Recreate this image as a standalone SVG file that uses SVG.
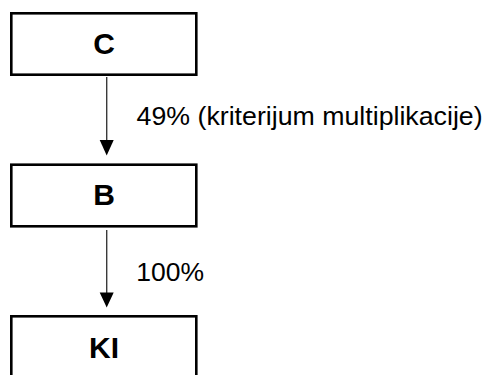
<svg xmlns="http://www.w3.org/2000/svg" width="484" height="375" viewBox="0 0 484 375">
  <style>
    .box { fill: #ffffff; stroke: #000000; stroke-width: 2.6; }
    .name { font-family: "Liberation Sans", Arial, sans-serif; font-weight: bold; font-size: 30px; text-anchor: middle; fill: #000000; }
    .edge { stroke: #3a3a3a; stroke-width: 1.4; fill: none; }
    .head { fill: #000000; stroke: none; }
    .label { font-family: "Liberation Sans", Arial, sans-serif; font-size: 25.5px; fill: #000000; }
  </style>
  <rect width="484" height="375" fill="#ffffff"/>

  <g id="node-c">
    <rect class="box" x="11.3" y="13.3" width="185" height="61.4"/>
    <text class="name" x="104" y="53.5">C</text>
  </g>

  <g id="node-b">
    <rect class="box" x="11.3" y="164.7" width="185" height="61.6"/>
    <text class="name" x="104" y="205">B</text>
  </g>

  <g id="node-ki">
    <rect class="box" x="11.3" y="316.3" width="185" height="80"/>
    <text class="name" x="104" y="358">KI</text>
  </g>

  <g id="connectors">
    <line class="edge" x1="106.7" y1="77" x2="106.7" y2="141"/>
    <polygon class="head" points="99.7,140 113.7,140 106.7,155.5"/>
    <text class="label" x="136.6" y="125" textLength="346" lengthAdjust="spacingAndGlyphs">49% (kriterijum multiplikacije)</text>

    <line class="edge" x1="106.7" y1="230" x2="106.7" y2="294"/>
    <polygon class="head" points="99.7,292.5 113.7,292.5 106.7,307.5"/>
    <text class="label" x="136.3" y="281" textLength="67.8" lengthAdjust="spacingAndGlyphs">100%</text>
  </g>
</svg>
